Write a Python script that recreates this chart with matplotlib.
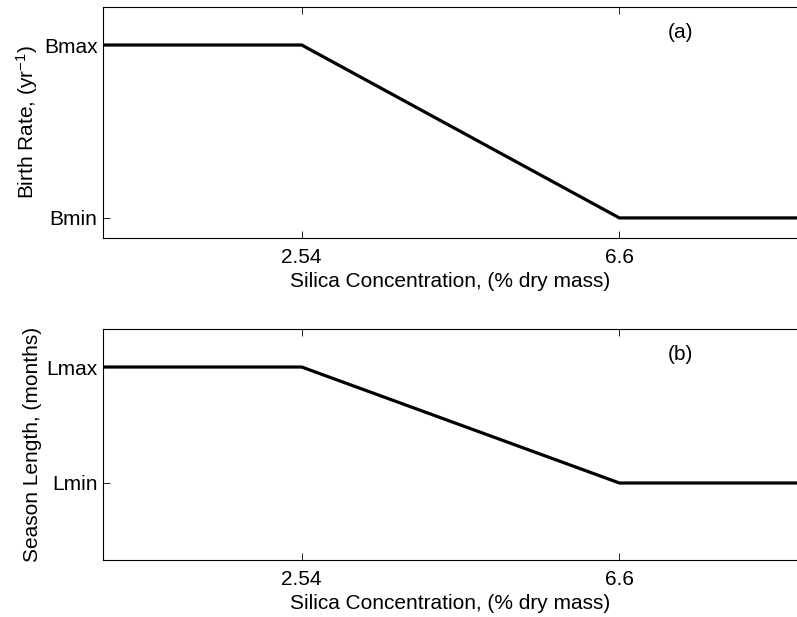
import matplotlib
matplotlib.use('Agg')
import matplotlib.pyplot as plt

# piecewise response to silica concentration
silica = [0.0, 2.54, 6.6, 9.0]
birth_rate = [1.0, 1.0, 0.0, 0.0]     # Bmax -> Bmin
season_len = [1.0, 1.0, 0.0, 0.0]     # Lmax -> Lmin

xticks = [2.54, 6.6]
xtick_labels = ['2.54', '6.6']

plt.rcParams['font.family'] = ['Liberation Sans', 'DejaVu Sans']
plt.rcParams['mathtext.fontset'] = 'custom'
plt.rcParams['mathtext.rm'] = 'Liberation Sans'
plt.rcParams['mathtext.it'] = 'Liberation Sans'

fig = plt.figure(figsize=(7.97, 6.17), dpi=100)
ax1 = fig.add_axes([0.1292, 0.6143, 0.8708, 0.3744])
ax2 = fig.add_axes([0.1292, 0.0924, 0.8708, 0.3744])

panels = [
    (ax1, birth_rate, ['Bmin', 'Bmax'], 'Birth Rate, (yr$^{-1}$)', (-0.116, 1.22), '(a)'),
    (ax2, season_len, ['Lmin', 'Lmax'], 'Season Length, (months)', (-0.664, 1.328), '(b)'),
]

for ax, vals, ylabs, ylabel, ylim, tag in panels:
    ax.plot(silica, vals, color='black', linewidth=2.3, solid_joinstyle='miter')
    ax.set_xlim(0, 8.87)
    ax.set_ylim(*ylim)
    ax.set_xticks(xticks)
    ax.set_xticklabels(xtick_labels)
    ax.set_yticks([0, 1])
    ax.set_yticklabels(ylabs)
    ax.tick_params(direction='in', top=True, length=5, width=0.6, labelsize=15)
    ax.tick_params(axis='x', pad=7)
    ax.tick_params(axis='y', pad=4)
    ax.spines['right'].set_visible(False)
    for s in ['left', 'top', 'bottom']:
        ax.spines[s].set_linewidth(0.8)
    ax.set_xlabel('Silica Concentration, (% dry mass)', fontsize=15, labelpad=4)
    ax.set_ylabel(ylabel, fontsize=15, labelpad=3)
    ax.text(0.832, 0.89, tag, transform=ax.transAxes, ha='center', va='center', fontsize=15)

fig.savefig('out.png', dpi=100)
